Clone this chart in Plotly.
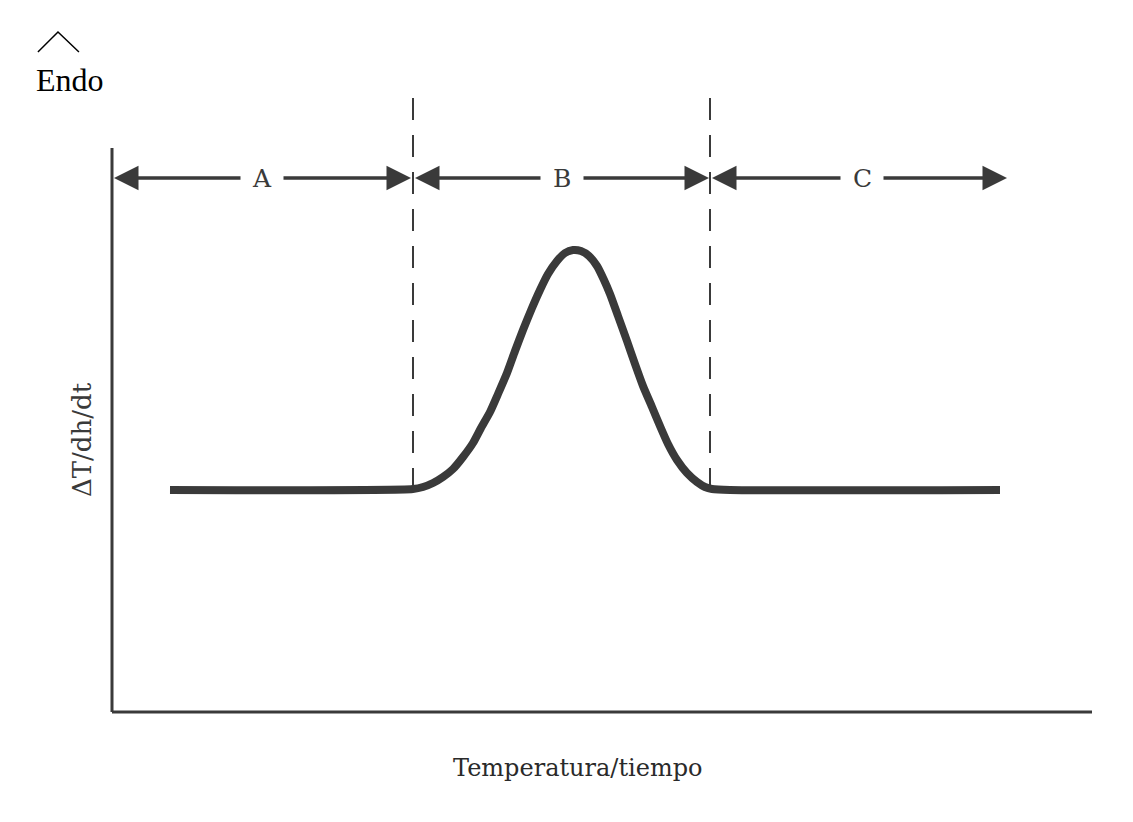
import plotly.graph_objects as go

# Curve (DSC-like trace), arbitrary units
temp = [58, 301, 311, 321, 331, 341, 351, 361, 369, 378, 386, 395, 403, 411, 420, 428,
        436, 445, 453, 461, 469, 477, 485, 492, 498, 506, 515, 523, 531, 540, 548, 556,
        565, 575, 585, 593, 600, 618, 888]
signal = [222, 223, 225, 229, 235, 243, 255, 269, 284, 300, 318, 339, 361, 382, 404, 422,
          438, 451, 459, 462, 461, 456, 446, 432, 418, 396, 371, 348, 326, 305, 286, 268,
          252, 239, 230, 225, 223, 222, 222]

# Region boundaries (dashed lines) and labels
boundaries = [301, 598]
boundary_top = 617
region_labels = ["A", "B", "C"]
region_centers = [150, 450, 750]
region_starts = [2, 303, 600]
region_ends = [299, 597, 895]
arrow_y = 534
label_gap = [20, 20, 20]

axis_x_max = 980
axis_y_max = 564

ink = "#3a3a3a"
fig = go.Figure()

fig.add_trace(go.Scatter(x=temp, y=signal, mode="lines",
                         line=dict(color=ink, width=8, shape="spline", smoothing=0.6),
                         hoverinfo="skip", showlegend=False))

shapes = []
# axes
shapes.append(dict(type="line", xref="x", yref="y", x0=0, y0=0, x1=0, y1=axis_y_max,
                   line=dict(color=ink, width=3)))
shapes.append(dict(type="line", xref="x", yref="y", x0=0, y0=0, x1=axis_x_max, y1=0,
                   line=dict(color=ink, width=3)))
for b in boundaries:
    shapes.append(dict(type="line", xref="x", yref="y", x0=b, y0=signal[0], x1=b, y1=boundary_top,
                       line=dict(color=ink, width=2, dash="22px,15px")))
# caret above "Endo"
shapes.append(dict(type="path", xref="paper", yref="paper",
                   path="M -0.0514 1.0436 L -0.0316 1.0748 L -0.0109 1.0436",
                   line=dict(color="black", width=1.5)))

annotations = []
for lab, c, s, e, g in zip(region_labels, region_centers, region_starts, region_ends, label_gap):
    annotations.append(dict(x=c, y=arrow_y, text=lab, showarrow=False,
                            xanchor="center", yanchor="middle",
                            font=dict(family="DejaVu Serif", size=25, color=ink)))
    annotations.append(dict(x=s, y=arrow_y, ax=c - g, ay=arrow_y, axref="x", ayref="y",
                            xref="x", yref="y", text="", showarrow=True,
                            arrowhead=2, arrowsize=1.4, arrowwidth=3.5, arrowcolor=ink,
                            standoff=0, startstandoff=0))
    annotations.append(dict(x=e, y=arrow_y, ax=c + g, ay=arrow_y, axref="x", ayref="y",
                            xref="x", yref="y", text="", showarrow=True,
                            arrowhead=2, arrowsize=1.4, arrowwidth=3.5, arrowcolor=ink,
                            standoff=0, startstandoff=0))

annotations.append(dict(x=-0.0079, y=0.4408, xref="paper", yref="paper", text="ΔT/dh/dt",
                        textangle=-90, showarrow=False, xanchor="center", yanchor="middle",
                        font=dict(family="DejaVu Serif", size=26, color=ink)))
annotations.append(dict(x=0.4817, y=-0.0717, xref="paper", yref="paper",
                        text="Temperatura/tiempo", showarrow=False,
                        xanchor="center", yanchor="middle",
                        font=dict(family="DejaVu Serif", size=24, color="#2a2a2a")))
annotations.append(dict(x=-0.0197, y=1.0000, xref="paper", yref="paper", text="Endo",
                        showarrow=False, xanchor="center", yanchor="middle",
                        font=dict(family="Liberation Serif", size=32, color="black")))

fig.update_layout(
    width=1125, height=814,
    margin=dict(l=82, r=30, t=72, b=100),
    paper_bgcolor="white", plot_bgcolor="white",
    xaxis=dict(range=[-22, 991], visible=False, fixedrange=True),
    yaxis=dict(range=[-10, 632], visible=False, fixedrange=True),
    shapes=shapes, annotations=annotations,
    showlegend=False,
)

fig.write_html("out.html")
